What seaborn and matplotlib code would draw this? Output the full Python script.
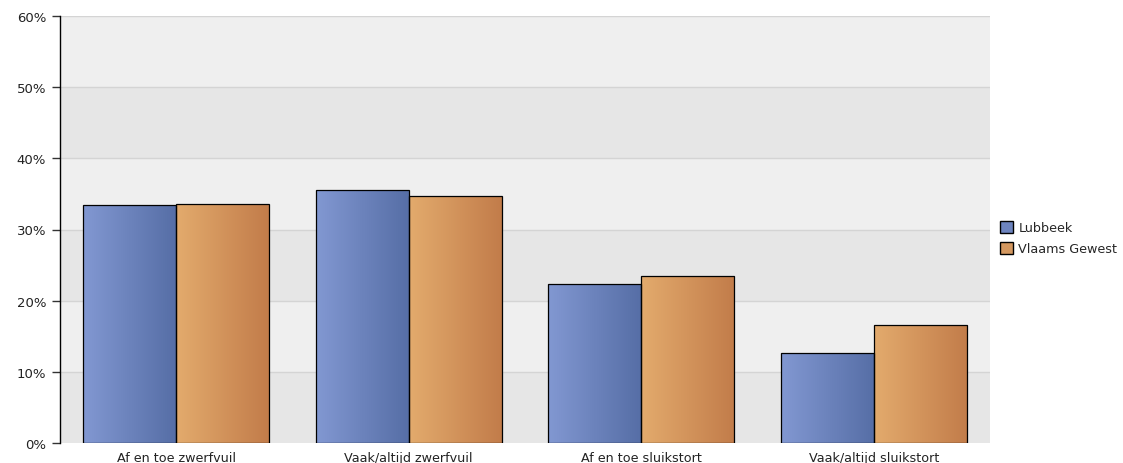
import numpy as np
import pandas as pd
import matplotlib
matplotlib.use("Agg")
import matplotlib.pyplot as plt
import seaborn as sns
from matplotlib.colors import LinearSegmentedColormap
from matplotlib.patches import Patch

# data
categories = ["Af en toe zwerfvuil", "Vaak/altijd zwerfvuil", "Af en toe sluikstort", "Vaak/altijd sluikstort"]
lubbeek = [33.4, 35.5, 22.3, 12.6]
vlaams = [33.6, 34.7, 23.5, 16.6]
series = ["Lubbeek", "Vlaams Gewest"]

df = pd.DataFrame({
    "cat": categories * 2,
    "val": lubbeek + vlaams,
    "reeks": [series[0]] * 4 + [series[1]] * 4,
})

sns.set_style("white")
plt.rcParams["font.family"] = ["DejaVu Sans"]

fig = plt.figure(figsize=(11.23, 4.64), dpi=100)
ax = fig.add_axes([60 / 1123, 1 - 444 / 464, 930 / 1123, 427 / 464])

# alternating background bands
for i in range(6):
    ax.axhspan(i * 10, (i + 1) * 10, color="#e6e6e6" if i % 2 == 0 else "#efefef", zorder=0, lw=0)
for y in range(10, 61, 10):
    ax.axhline(y, color="#d4d4d4", lw=1, zorder=0.5)

base = {"Lubbeek": "#6d84bf", "Vlaams Gewest": "#d49860"}
sns.barplot(data=df, x="cat", y="val", hue="reeks", palette=base, ax=ax,
            width=0.8, edgecolor="black", linewidth=0.9, legend=False, zorder=2)

grads = {
    "Lubbeek": LinearSegmentedColormap.from_list("b", ["#8298d2", "#566ea6"]),
    "Vlaams Gewest": LinearSegmentedColormap.from_list("o", ["#e3ab6d", "#c27c4a"]),
}
ramp = np.linspace(0, 1, 256).reshape(1, -1)
for cont, name in zip(ax.containers, series):
    for p in cont.patches:
        x0, y0 = p.get_x(), p.get_y()
        w, h = p.get_width(), p.get_height()
        im = ax.imshow(ramp, cmap=grads[name], extent=[x0, x0 + w, y0, y0 + h],
                       aspect="auto", zorder=2.5, interpolation="bicubic")
        im.set_clip_path(p)
        p.set_facecolor("none")
        p.set_zorder(3)

ax.set_xlim(-0.5, 3.5)
ax.set_ylim(0, 60)
ax.set_yticks(range(0, 61, 10))
ax.set_yticklabels([f"{v}%" for v in range(0, 61, 10)], fontsize=9.5, color="#222222")
ax.set_xticks(range(4))
ax.set_xticklabels(categories, fontsize=9.2, color="#222222")
ax.tick_params(axis="y", length=6, width=1, color="#333333", pad=4, left=True)
ax.tick_params(axis="x", length=0, pad=6)
ax.set_xlabel("")
ax.set_ylabel("")
for s in ["top", "right", "bottom"]:
    ax.spines[s].set_visible(False)
ax.spines["left"].set_color("black")
ax.spines["left"].set_linewidth(1)

handles = [Patch(facecolor="#6d84bf", edgecolor="black", label=series[0]),
           Patch(facecolor="#d49860", edgecolor="black", label=series[1])]
fig.legend(handles=handles, loc="center left", bbox_to_anchor=(991 / 1123, 1 - 239 / 464),
           frameon=False, fontsize=9.2, handlelength=1.0, handleheight=1.1,
           handletextpad=0.45, labelspacing=0.55, borderpad=0.2)

fig.savefig("out.png", dpi=100)
